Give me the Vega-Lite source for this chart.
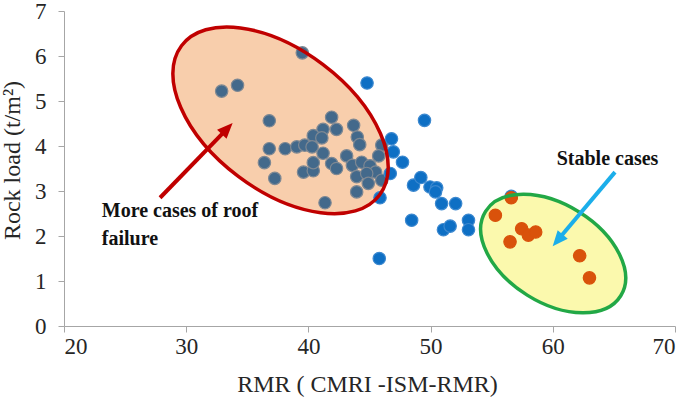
{
  "$schema": "https://vega.github.io/schema/vega-lite/v6.json",
  "width": 611,
  "height": 315,
  "autosize": "none",
  "padding": {"left": 64, "top": 11, "right": 10, "bottom": 76},
  "background": "white",
  "config": {"view": {"stroke": null}},
  "resolve": {"scale": {"color": "independent", "stroke": "independent", "size": "independent"}},
  "datasets": {
    "pts": [
      {"rmr": 32.9, "load": 5.22, "group": "failure"},
      {"rmr": 34.2, "load": 5.35, "group": "failure"},
      {"rmr": 39.5, "load": 6.07, "group": "failure"},
      {"rmr": 36.8, "load": 4.56, "group": "failure"},
      {"rmr": 41.9, "load": 4.64, "group": "failure"},
      {"rmr": 42.3, "load": 4.37, "group": "failure"},
      {"rmr": 43.7, "load": 4.46, "group": "failure"},
      {"rmr": 41.2, "load": 4.37, "group": "failure"},
      {"rmr": 40.4, "load": 4.23, "group": "failure"},
      {"rmr": 41.1, "load": 4.18, "group": "failure"},
      {"rmr": 44.0, "load": 4.2, "group": "failure"},
      {"rmr": 44.2, "load": 4.03, "group": "failure"},
      {"rmr": 36.8, "load": 3.94, "group": "failure"},
      {"rmr": 38.1, "load": 3.94, "group": "failure"},
      {"rmr": 39.05, "load": 3.98, "group": "failure"},
      {"rmr": 39.7, "load": 4.02, "group": "failure"},
      {"rmr": 40.3, "load": 3.98, "group": "failure"},
      {"rmr": 41.2, "load": 3.84, "group": "failure"},
      {"rmr": 43.13, "load": 3.78, "group": "failure"},
      {"rmr": 36.4, "load": 3.63, "group": "failure"},
      {"rmr": 37.25, "load": 3.28, "group": "failure"},
      {"rmr": 39.6, "load": 3.42, "group": "failure"},
      {"rmr": 40.4, "load": 3.45, "group": "failure"},
      {"rmr": 40.4, "load": 3.63, "group": "failure"},
      {"rmr": 41.9, "load": 3.61, "group": "failure"},
      {"rmr": 42.3, "load": 3.5, "group": "failure"},
      {"rmr": 43.6, "load": 3.57, "group": "failure"},
      {"rmr": 44.36, "load": 3.64, "group": "failure"},
      {"rmr": 45.04, "load": 3.56, "group": "failure"},
      {"rmr": 45.5, "load": 3.42, "group": "failure"},
      {"rmr": 43.95, "load": 3.32, "group": "failure"},
      {"rmr": 44.77, "load": 3.39, "group": "failure"},
      {"rmr": 44.9, "load": 3.17, "group": "failure"},
      {"rmr": 46.0, "load": 3.24, "group": "failure"},
      {"rmr": 43.95, "load": 2.98, "group": "failure"},
      {"rmr": 41.36, "load": 2.74, "group": "failure"},
      {"rmr": 46.0, "load": 4.02, "group": "failure"},
      {"rmr": 45.75, "load": 3.78, "group": "failure"},
      {"rmr": 44.8, "load": 5.4, "group": "other"},
      {"rmr": 49.5, "load": 4.57, "group": "other"},
      {"rmr": 46.8, "load": 4.16, "group": "other"},
      {"rmr": 46.95, "load": 3.87, "group": "other"},
      {"rmr": 47.7, "load": 3.64, "group": "other"},
      {"rmr": 46.7, "load": 3.39, "group": "other"},
      {"rmr": 45.86, "load": 2.85, "group": "other"},
      {"rmr": 48.6, "load": 3.13, "group": "other"},
      {"rmr": 49.2, "load": 3.3, "group": "other"},
      {"rmr": 49.95, "load": 3.09, "group": "other"},
      {"rmr": 50.5, "load": 3.07, "group": "other"},
      {"rmr": 50.4, "load": 2.98, "group": "other"},
      {"rmr": 50.9, "load": 2.72, "group": "other"},
      {"rmr": 52.05, "load": 2.72, "group": "other"},
      {"rmr": 48.45, "load": 2.35, "group": "other"},
      {"rmr": 51.05, "load": 2.14, "group": "other"},
      {"rmr": 51.6, "load": 2.22, "group": "other"},
      {"rmr": 53.1, "load": 2.35, "group": "other"},
      {"rmr": 53.1, "load": 2.14, "group": "other"},
      {"rmr": 45.8, "load": 1.5, "group": "other"},
      {"rmr": 56.6, "load": 2.88, "group": "other"},
      {"rmr": 56.6, "load": 2.85, "group": "stable"},
      {"rmr": 55.3, "load": 2.46, "group": "stable"},
      {"rmr": 57.45, "load": 2.16, "group": "stable"},
      {"rmr": 58.0, "load": 2.02, "group": "stable"},
      {"rmr": 58.6, "load": 2.09, "group": "stable"},
      {"rmr": 56.5, "load": 1.87, "group": "stable"},
      {"rmr": 62.2, "load": 1.56, "group": "stable"},
      {"rmr": 63.0, "load": 1.07, "group": "stable"}
    ],
    "redEllipse": [{"rmr": 37.72, "load": 4.57}],
    "greenEllipse": [{"rmr": 60.03, "load": 1.61}],
    "arrows": [
      {"name": "failure", "x1": 27.86, "y1": 2.85, "x2": 33.34, "y2": 4.38, "tx": 33.8, "ty": 4.51, "dir": 44},
      {"name": "stable", "x1": 65.09, "y1": 3.42, "x2": 60.41, "y2": 1.91, "tx": 59.99, "ty": 1.77, "dir": 220}
    ],
    "labels": [
      {"rmr": 23.09, "load": 2.42, "text": "More cases of roof", "kind": "failure"},
      {"rmr": 23.09, "load": 1.79, "text": "failure", "kind": "failure"},
      {"rmr": 60.32, "load": 3.57, "text": "Stable cases", "kind": "stable"}
    ]
  },
  "layer": [
    {
      "data": {"name": "redEllipse"},
      "mark": {"type": "point", "shape": "M -1 0 C -1 -0.3126 -0.5523 -0.566 0 -0.566 C 0.5523 -0.566 1 -0.3126 1 0 C 1 0.3126 0.5523 0.566 0 0.566 C -0.5523 0.566 -1 0.3126 -1 0 Z", "size": 61504, "angle": 37, "filled": true, "fill": "#F8CEAC", "strokeWidth": 0, "opacity": 1},
      "encoding": {
        "x": {"field": "rmr", "type": "quantitative", "scale": {"domain": [20, 70], "nice": false}, "axis": {"values": [20, 30, 40, 50, 60, 70], "title": "RMR  ( CMRI -ISM-RMR)", "grid": false, "domainColor": "#A6A6A6", "tickColor": "#A6A6A6", "tickSize": 6, "labelFont": "Liberation Serif, Times New Roman, serif", "labelFontSize": 23, "labelColor": "#262626", "labelPadding": 3, "titleFont": "Liberation Serif, Times New Roman, serif", "titleFontSize": 24, "titleFontWeight": "normal", "titleColor": "#262626", "titleX": 303, "titleY": 65, "titleBaseline": "alphabetic"}},
        "y": {"field": "load", "type": "quantitative", "scale": {"domain": [0, 7], "nice": false}, "axis": {"values": [0, 1, 2, 3, 4, 5, 6, 7], "title": "Rock load (t/m²)", "grid": false, "domainColor": "#A6A6A6", "tickColor": "#A6A6A6", "tickSize": 6, "labelFont": "Liberation Serif, Times New Roman, serif", "labelFontSize": 23, "labelColor": "#262626", "labelPadding": 12, "titleFont": "Liberation Serif, Times New Roman, serif", "titleFontSize": 24, "titleFontWeight": "normal", "titleColor": "#262626", "titleX": -45, "titleY": 149, "titleBaseline": "alphabetic"}}
      }
    },
    {
      "data": {"name": "greenEllipse"},
      "mark": {"type": "point", "shape": "M -1 0 C -1 -0.3397 -0.5523 -0.615 0 -0.615 C 0.5523 -0.615 1 -0.3397 1 0 C 1 0.3397 0.5523 0.615 0 0.615 C -0.5523 0.615 -1 0.3397 -1 0 Z", "size": 25410, "angle": 32, "filled": true, "fill": "#FBF9AD", "strokeWidth": 0, "opacity": 1},
      "encoding": {
        "x": {"field": "rmr", "type": "quantitative"},
        "y": {"field": "load", "type": "quantitative"}
      }
    },
    {
      "data": {"name": "pts"},
      "mark": {"type": "circle", "opacity": 1, "strokeWidth": 1.2},
      "encoding": {
        "x": {"field": "rmr", "type": "quantitative"},
        "y": {"field": "load", "type": "quantitative"},
        "color": {"field": "group", "type": "nominal", "scale": {"domain": ["failure", "other", "stable"], "range": ["#43698B", "#0E6FC4", "#D9520B"]}, "legend": null},
        "stroke": {"field": "group", "type": "nominal", "scale": {"domain": ["failure", "other", "stable"], "range": ["#7E8893", "#3C88CF", "#D9520B"]}, "legend": null},
        "size": {"field": "group", "type": "nominal", "scale": {"domain": ["failure", "other", "stable"], "range": [154, 154, 120]}, "legend": null}
      }
    },
    {
      "data": {"name": "redEllipse"},
      "mark": {"type": "point", "shape": "M -1 0 C -1 -0.3126 -0.5523 -0.566 0 -0.566 C 0.5523 -0.566 1 -0.3126 1 0 C 1 0.3126 0.5523 0.566 0 0.566 C -0.5523 0.566 -1 0.3126 -1 0 Z", "size": 61504, "angle": 37, "filled": false, "stroke": "#C00000", "strokeWidth": 3.5, "opacity": 1},
      "encoding": {
        "x": {"field": "rmr", "type": "quantitative"},
        "y": {"field": "load", "type": "quantitative"}
      }
    },
    {
      "data": {"name": "greenEllipse"},
      "mark": {"type": "point", "shape": "M -1 0 C -1 -0.3397 -0.5523 -0.615 0 -0.615 C 0.5523 -0.615 1 -0.3397 1 0 C 1 0.3397 0.5523 0.615 0 0.615 C -0.5523 0.615 -1 0.3397 -1 0 Z", "size": 25410, "angle": 32, "filled": false, "stroke": "#22A846", "strokeWidth": 3.5, "opacity": 1},
      "encoding": {
        "x": {"field": "rmr", "type": "quantitative"},
        "y": {"field": "load", "type": "quantitative"}
      }
    },
    {
      "data": {"name": "arrows"},
      "mark": {"type": "rule", "strokeWidth": 4, "strokeCap": "butt"},
      "encoding": {
        "x": {"field": "x1", "type": "quantitative"},
        "y": {"field": "y1", "type": "quantitative"},
        "x2": {"field": "x2"},
        "y2": {"field": "y2"},
        "color": {"field": "name", "type": "nominal", "scale": {"domain": ["failure", "stable"], "range": ["#C00000", "#1BAEEA"]}, "legend": null}
      }
    },
    {
      "data": {"name": "arrows"},
      "mark": {"type": "point", "shape": "M 0 0 L 0.55 1.3 L -0.55 1.3 Z", "size": 576, "filled": true, "opacity": 1, "strokeWidth": 0},
      "encoding": {
        "x": {"field": "tx", "type": "quantitative"},
        "y": {"field": "ty", "type": "quantitative"},
        "angle": {"field": "dir", "type": "quantitative", "scale": null},
        "color": {"field": "name", "type": "nominal", "scale": {"domain": ["failure", "stable"], "range": ["#C00000", "#1BAEEA"]}, "legend": null}
      }
    },
    {
      "data": {"name": "labels"},
      "mark": {"type": "text", "align": "left", "baseline": "alphabetic", "font": "Liberation Serif, Times New Roman, serif", "fontWeight": "bold", "fontSize": 20, "color": "#111111"},
      "encoding": {
        "x": {"field": "rmr", "type": "quantitative"},
        "y": {"field": "load", "type": "quantitative"},
        "text": {"field": "text"}
      }
    }
  ]
}
